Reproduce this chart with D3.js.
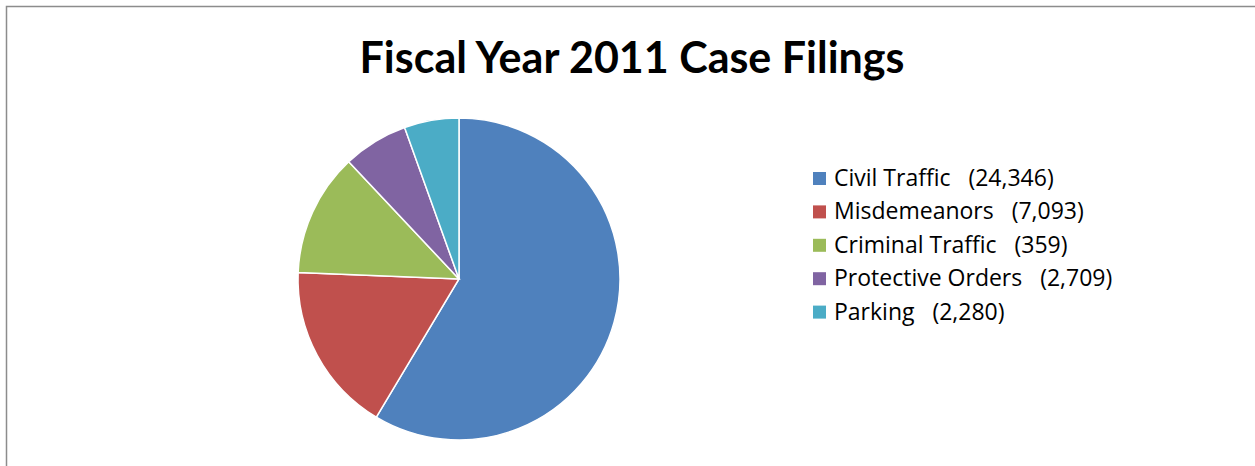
<!DOCTYPE html>
<html>
<head>
<meta charset="utf-8">
<script src="https://d3js.org/d3.v7.min.js"></script>
<style>
  body { margin: 0; background: #fff; }
  svg { display: block; }
</style>
</head>
<body>
<svg width="1255" height="466"></svg>
<script>
// категории и значения (значения секторов прочитаны по углам на картинке)
const categories = ["Civil Traffic", "Misdemeanors", "Criminal Traffic", "Protective Orders", "Parking"];
const values = [24346, 7093, 5130, 2709, 2280];
// подписи в легенде как на оригинале
const legendCounts = ["24,346", "7,093", "359", "2,709", "2,280"];
const colors = ["#4F81BD", "#C0504D", "#9BBB59", "#8064A2", "#4BACC6"];
const title = "Fiscal Year 2011 Case Filings";

const svg = d3.select("svg");

// рамка области диаграммы
svg.append("rect")
    .attr("x", 6.5).attr("y", 6.5)
    .attr("width", 1260).attr("height", 470)
    .attr("fill", "#fff")
    .attr("stroke", "#8c8c8c")
    .attr("stroke-width", 1.5);

svg.append("text")
    .attr("x", 632).attr("y", 73)
    .attr("text-anchor", "middle")
    .style("font-family", "Lato, 'Open Sans', sans-serif")
    .style("font-weight", "bold")
    .style("font-size", "43px")
    .style("fill", "#000")
    .text(title);

const data = categories.map((c, i) => ({name: c, value: values[i], color: colors[i]}));

const pie = d3.pie().sort(null).value(d => d.value);
const arc = d3.arc().innerRadius(0).outerRadius(161);

const g = svg.append("g").attr("transform", "translate(459, 279)");

g.selectAll("path")
    .data(pie(data))
    .enter()
    .append("path")
    .attr("d", arc)
    .attr("fill", d => d.data.color)
    .attr("stroke", "#fff")
    .attr("stroke-width", 1.5);

// легенда
const legend = svg.append("g").attr("transform", "translate(813, 172)");
const item = legend.selectAll(".item")
    .data(data)
    .enter()
    .append("g")
    .attr("transform", (d, i) => `translate(0, ${i * 33.4})`);

item.append("rect")
    .attr("width", 13).attr("height", 13)
    .attr("fill", d => d.color);

item.append("text")
    .attr("x", 21).attr("y", 14)
    .style("font-family", "'Open Sans', sans-serif")
    .style("font-size", "23px")
    .style("fill", "#000")
    .attr("xml:space", "preserve")
    .text((d, i) => `${d.name}   (${legendCounts[i]})`);
</script>
</body>
</html>
